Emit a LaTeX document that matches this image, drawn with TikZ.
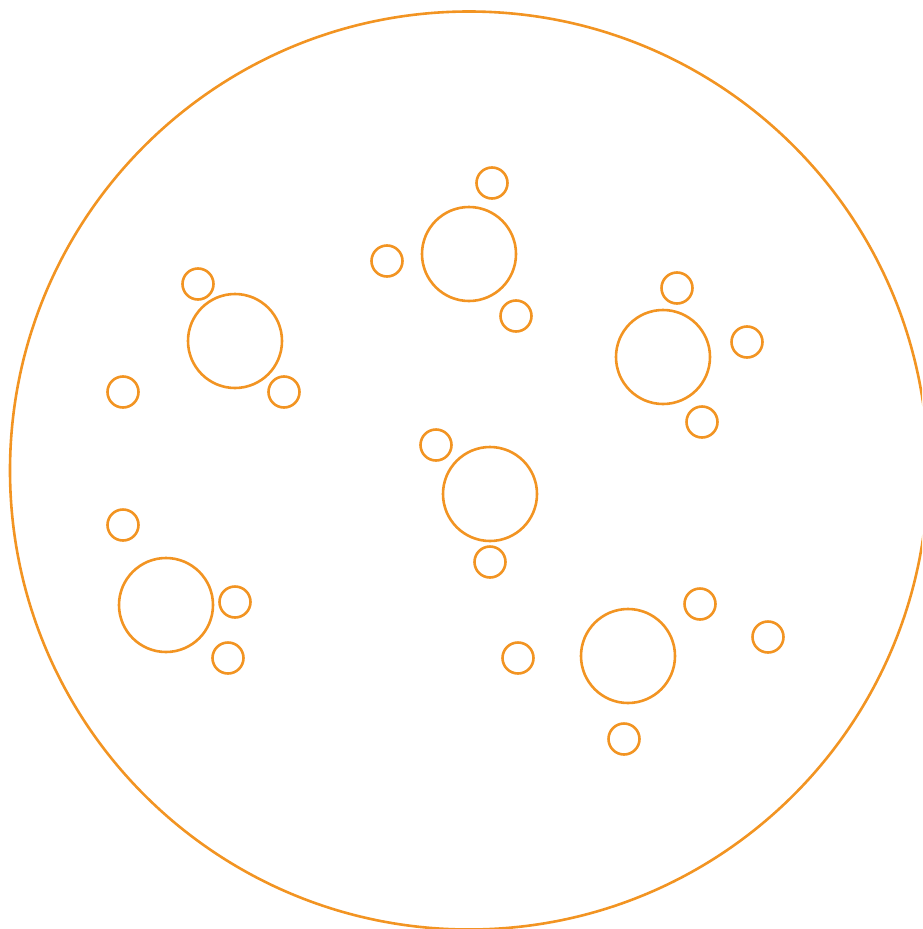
\documentclass[tikz,border=0pt]{standalone}
\definecolor{ring}{HTML}{F29422}
\begin{document}
\begin{tikzpicture}[x=1pt,y=-1pt,
  ringline/.style={draw=ring,line width=2.6pt},
  bigring/.style={ringline},
  smallring/.style={ringline}]
\useasboundingbox (0,0) rectangle (922,929);
\begin{scope}
\clip (0,0) rectangle (922,929);
\draw[ringline] (469,470.5) circle[radius=459];
\end{scope}
% large circles
\foreach \p in {(469,254),(235,341),(663,357),(490,494),(166,605),(628,656)}
  \draw[bigring] \p circle[radius=47];
% small circles
\foreach \p in {(492,183),(387,261),(516,316),
                (198,284),(123,392),(284,392),
                (677,288),(747,342),(702,422),
                (436,445),(490,562),
                (123,525),(235,602),(228,658),
                (700,604),(768,637),(518,658),(624,739)}
  \draw[smallring] \p circle[radius=15.5];
\end{tikzpicture}
\end{document}
